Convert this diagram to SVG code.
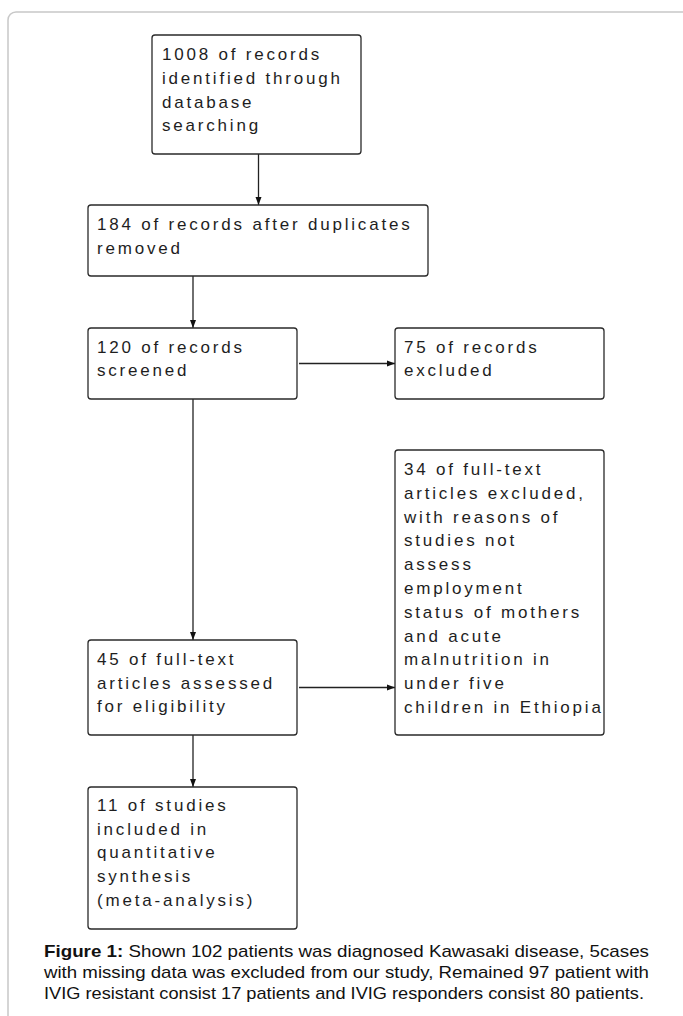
<svg xmlns="http://www.w3.org/2000/svg" width="683" height="1016" viewBox="0 0 683 1016">
  <style>
    .box { fill: #ffffff; stroke: #2a2a2a; stroke-width: 1.3; }
    .lbl { font-family: "Liberation Sans", Arial, sans-serif; font-size: 17px; letter-spacing: 2.8px; fill: #1e1e1e; }
    .conn { stroke: #222222; stroke-width: 1.3; fill: none; }
    .cap { font-family: "Liberation Sans", Arial, sans-serif; font-size: 17px; fill: #111111; }
  </style>
  <defs>
    <marker id="arr" markerUnits="userSpaceOnUse" markerWidth="9" markerHeight="7" refX="8" refY="3.5" orient="auto">
      <path d="M0,0.5 L8,3.5 L0,6.5 z" fill="#111111"/>
    </marker>
  </defs>
  <rect x="8" y="12" width="682" height="1030" rx="8" fill="#ffffff" stroke="#c8c8c8" stroke-width="1.5"/>

  <g id="connectors">
    <line class="conn" x1="258.5" y1="154" x2="258.5" y2="205" marker-end="url(#arr)"/>
    <line class="conn" x1="193" y1="276" x2="193" y2="328" marker-end="url(#arr)"/>
    <line class="conn" x1="299" y1="363.5" x2="395" y2="363.5" marker-end="url(#arr)"/>
    <line class="conn" x1="193" y1="399" x2="193" y2="640" marker-end="url(#arr)"/>
    <line class="conn" x1="299" y1="687.5" x2="395" y2="687.5" marker-end="url(#arr)"/>
    <line class="conn" x1="193" y1="735" x2="193" y2="787" marker-end="url(#arr)"/>
  </g>

  <g id="node-identified">
    <rect class="box" x="152" y="35" width="209" height="119" rx="3"/>
    <text class="lbl" x="162" y="60">1008 of records</text>
    <text class="lbl" x="162" y="83.8">identified through</text>
    <text class="lbl" x="162" y="107.6">database</text>
    <text class="lbl" x="162" y="131.4">searching</text>
  </g>

  <g id="node-duplicates">
    <rect class="box" x="88" y="205" width="340" height="71" rx="3"/>
    <text class="lbl" x="97" y="230">184 of records after duplicates</text>
    <text class="lbl" x="97" y="253.8">removed</text>
  </g>

  <g id="node-screened">
    <rect class="box" x="88" y="328" width="209" height="71" rx="3"/>
    <text class="lbl" x="97" y="352.5">120 of records</text>
    <text class="lbl" x="97" y="376.3">screened</text>
  </g>

  <g id="node-excluded">
    <rect class="box" x="395" y="328" width="209" height="71" rx="3"/>
    <text class="lbl" x="404" y="352.5">75 of records</text>
    <text class="lbl" x="404" y="376.3">excluded</text>
  </g>

  <g id="node-fulltext-excluded">
    <rect class="box" x="395" y="450" width="209" height="285" rx="3"/>
    <text class="lbl" x="404" y="475">34 of full-text</text>
    <text class="lbl" x="404" y="498.8">articles excluded,</text>
    <text class="lbl" x="404" y="522.6">with reasons of</text>
    <text class="lbl" x="404" y="546.4">studies not</text>
    <text class="lbl" x="404" y="570.2">assess</text>
    <text class="lbl" x="404" y="594">employment</text>
    <text class="lbl" x="404" y="617.8">status of mothers</text>
    <text class="lbl" x="404" y="641.6">and acute</text>
    <text class="lbl" x="404" y="665.4">malnutrition in</text>
    <text class="lbl" x="404" y="689.2">under five</text>
    <text class="lbl" x="404" y="713">children in Ethiopia</text>
  </g>

  <g id="node-assessed">
    <rect class="box" x="88" y="640" width="209" height="95" rx="3"/>
    <text class="lbl" x="97" y="665">45 of full-text</text>
    <text class="lbl" x="97" y="688.5">articles assessed</text>
    <text class="lbl" x="97" y="712">for eligibility</text>
  </g>

  <g id="node-included">
    <rect class="box" x="88" y="787" width="209" height="142" rx="3"/>
    <text class="lbl" x="97" y="811">11 of studies</text>
    <text class="lbl" x="97" y="834.7">included in</text>
    <text class="lbl" x="97" y="858.4">quantitative</text>
    <text class="lbl" x="97" y="882.1">synthesis</text>
    <text class="lbl" x="97" y="905.8">(meta-analysis)</text>
  </g>

  <g id="caption">
    <text class="cap" x="44" y="957" textLength="605" lengthAdjust="spacingAndGlyphs"><tspan font-weight="bold">Figure 1:</tspan> Shown 102 patients was diagnosed Kawasaki disease, 5cases</text>
    <text class="cap" x="44" y="978" textLength="605" lengthAdjust="spacingAndGlyphs">with missing data was excluded from our study, Remained 97 patient with</text>
    <text class="cap" x="44" y="999" textLength="600" lengthAdjust="spacingAndGlyphs">IVIG resistant consist 17 patients and IVIG responders consist 80 patients.</text>
  </g>
</svg>
